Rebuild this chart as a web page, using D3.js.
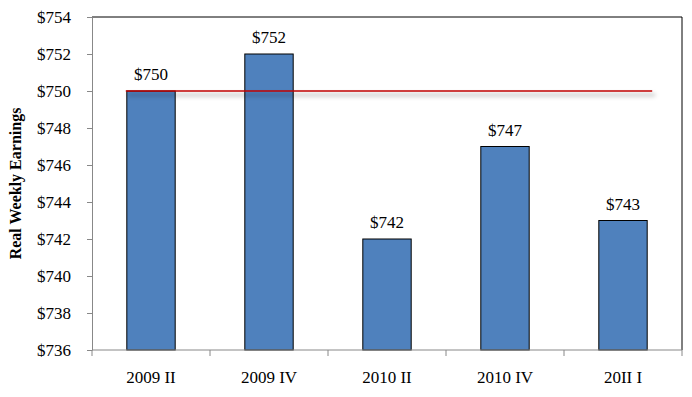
<!DOCTYPE html>
<html>
<head>
<meta charset="utf-8">
<script src="https://cdn.jsdelivr.net/npm/d3@7"></script>
<style>
  body { margin: 0; background: #fff; }
</style>
</head>
<body>
<svg id="chart" width="692" height="397"></svg>
<script>
const quarters = ["2009 II", "2009 IV", "2010 II", "2010 IV", "20II I"]
const earnings = [750, 752, 742, 747, 743]
const yTicks   = [736, 738, 740, 742, 744, 746, 748, 750, 752, 754]
const refLevel = 750

const FONT = "'Liberation Serif', 'Times New Roman', serif"
const svg = d3.select("#chart").attr("font-family", FONT)
const plotL = 92, plotR = 682, plotT = 17, plotB = 350

const x = d3.scaleBand().domain(quarters).range([plotL, plotR]).paddingInner(0.59).paddingOuter(0.295)
const y = d3.scaleLinear().domain([736, 754]).range([plotB, plotT])

// soft shadow under the reference line (user space, since the line has no height)
const defs = svg.append("defs")
defs.append("filter").attr("id", "blur")
  .attr("filterUnits", "userSpaceOnUse")
  .attr("x", 0).attr("y", 0).attr("width", 692).attr("height", 397)
  .append("feGaussianBlur").attr("stdDeviation", 2)

// frame top / right
svg.append("path")
  .attr("d", `M${plotL},${plotT}H${plotR}V${plotB}`)
  .attr("fill", "none").attr("stroke", "#000").attr("stroke-width", 1)

// bars
svg.selectAll("rect.bar").data(earnings).join("rect")
  .attr("class", "bar")
  .attr("x", (d, i) => x(quarters[i]))
  .attr("width", x.bandwidth())
  .attr("y", d => y(d))
  .attr("height", d => y(736) - y(d))
  .attr("fill", "#4f81bd").attr("stroke", "#000").attr("stroke-width", 1)

// value labels
svg.selectAll("text.val").data(earnings).join("text")
  .attr("class", "val")
  .attr("x", (d, i) => x(quarters[i]) + x.bandwidth() / 2)
  .attr("y", d => y(d) - 11)
  .attr("text-anchor", "middle")
  .attr("font-family", FONT)
  .attr("font-size", 17)
  .text(d => "$" + d)

// reference line at $750
const rx1 = x(quarters[0]) - 1
const rx2 = x(quarters[quarters.length - 1]) + x.bandwidth() + 5
svg.append("line")
  .attr("x1", rx1 + 2).attr("x2", rx2 + 3)
  .attr("y1", y(refLevel) + 4).attr("y2", y(refLevel) + 4)
  .attr("stroke", "#000").attr("stroke-opacity", 0.22).attr("stroke-width", 3)
  .attr("filter", "url(#blur)")
svg.append("line")
  .attr("x1", rx1).attr("x2", rx2)
  .attr("y1", y(refLevel)).attr("y2", y(refLevel))
  .attr("stroke", "#c00000").attr("stroke-width", 1.3)

// y axis
const yAxis = svg.append("g").attr("transform", `translate(${plotL},0)`)
  .call(d3.axisLeft(y).tickValues(yTicks).tickSize(5).tickSizeOuter(0).tickPadding(16).tickFormat(d => "$" + d))
  .attr("font-family", FONT).attr("font-size", 17)
yAxis.select(".domain").attr("stroke", "#888")
yAxis.selectAll(".tick line").attr("stroke", "#888")
yAxis.selectAll(".tick text").attr("fill", "#000")

// x axis with ticks on category boundaries
const xAxis = svg.append("g").attr("transform", `translate(0,${plotB})`)
xAxis.append("line").attr("x1", plotL).attr("x2", plotR).attr("stroke", "#888")
const step = x.step()
xAxis.selectAll("line.tk").data(d3.range(quarters.length + 1)).join("line")
  .attr("class", "tk")
  .attr("x1", i => plotL + i * step).attr("x2", i => plotL + i * step)
  .attr("y1", 0).attr("y2", 6).attr("stroke", "#888")
xAxis.selectAll("text").data(quarters).join("text")
  .attr("x", d => x(d) + x.bandwidth() / 2)
  .attr("y", 33)
  .attr("text-anchor", "middle")
  .attr("font-family", FONT)
  .attr("font-size", 17)
  .text(d => d)

// y title
svg.append("text")
  .attr("transform", `translate(21,${(plotT + plotB) / 2}) rotate(-90)`)
  .attr("text-anchor", "middle")
  .attr("font-family", FONT)
  .attr("font-size", 16).attr("font-weight", "bold")
  .text("Real Weekly Earnings")
</script>
</body>
</html>
